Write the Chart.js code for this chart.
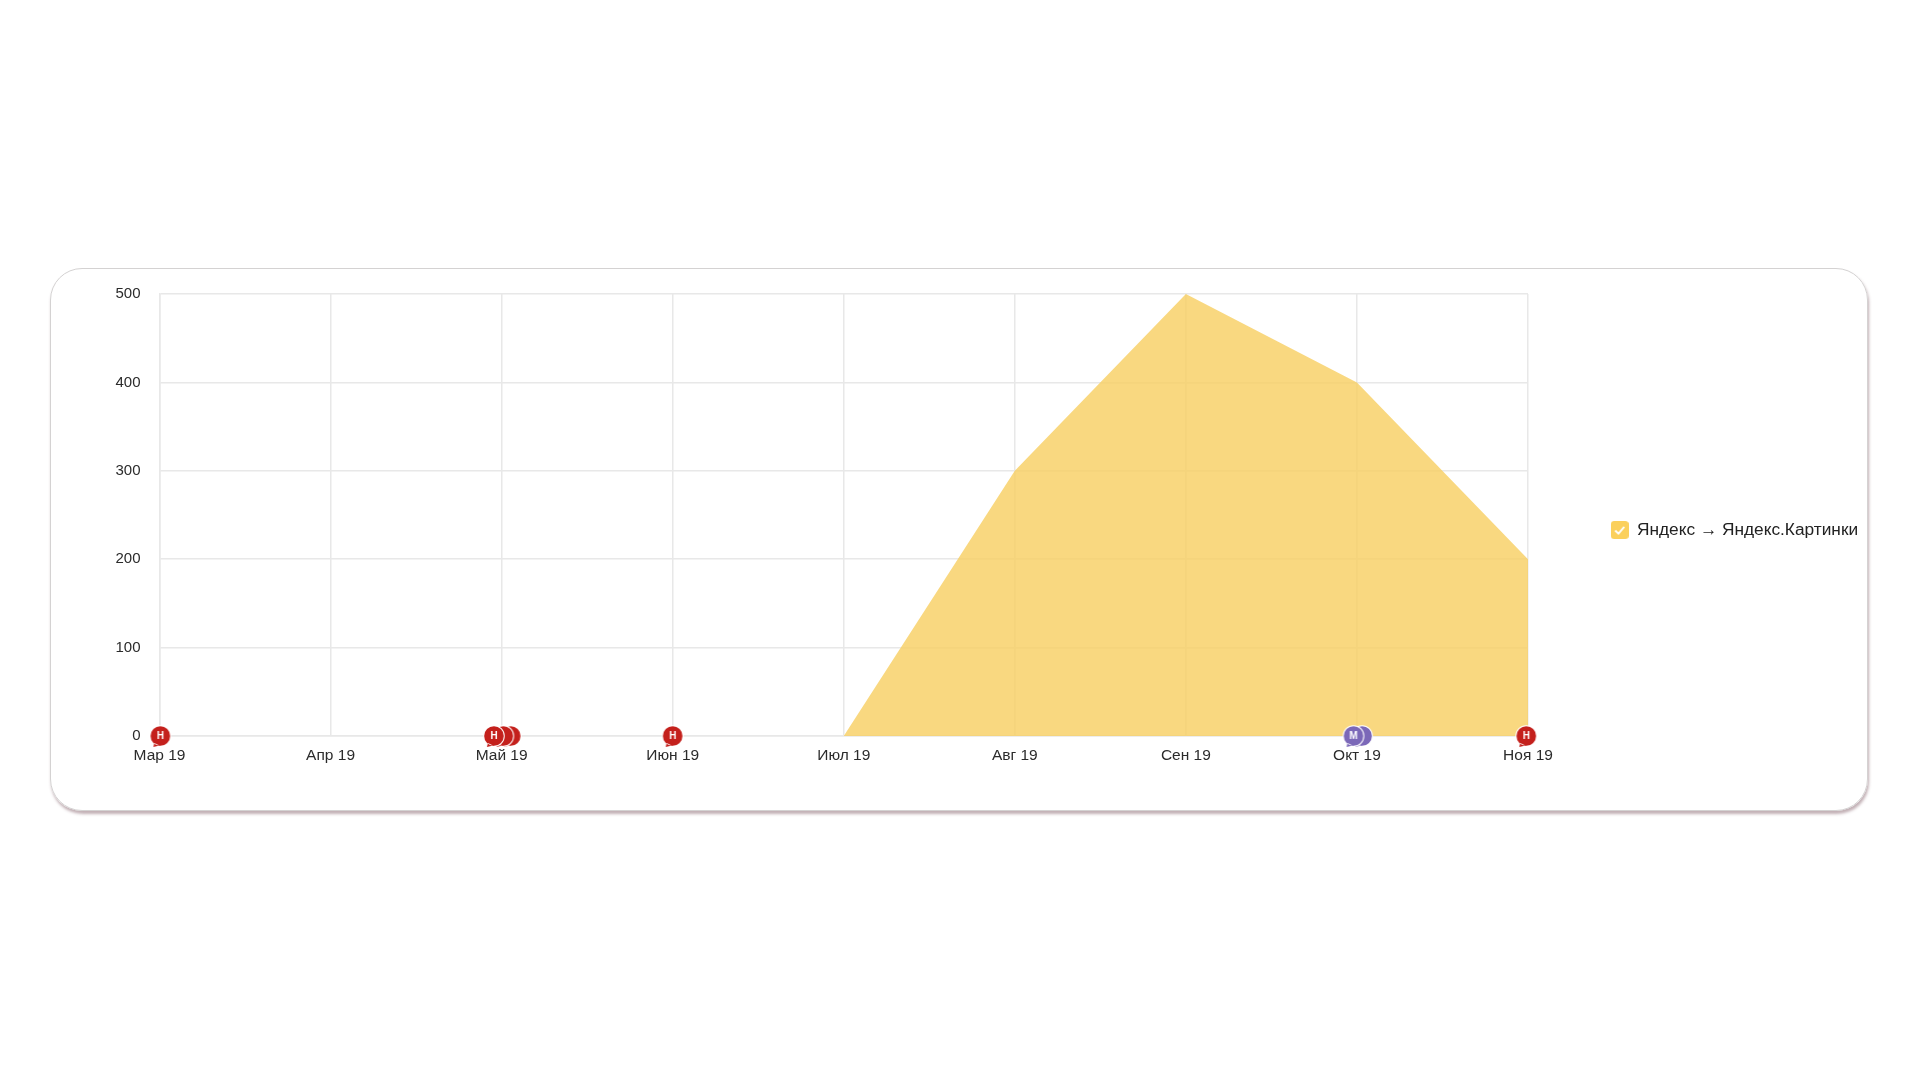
<!DOCTYPE html>
<html lang="ru">
<head>
<meta charset="utf-8">
<title>Яндекс → Яндекс.Картинки</title>
<script src="https://cdn.jsdelivr.net/npm/chart.js@4"></script>
<style>
  html, body { margin: 0; width: 1920px; height: 1080px; background: #fff; overflow: hidden; }
  #card {
    position: absolute; left: 50px; top: 268px; width: 1816px; height: 541px;
    border: 1px solid #d4d2d2; border-radius: 32px;
    box-shadow: 1px 3px 3px rgba(120, 80, 90, .45);
  }
  #chart-box { position: absolute; left: 50px; top: 270px; width: 1818px; height: 496px; }
</style>
</head>
<body>
<div id="card"></div>
<div id="chart-box"><canvas id="chart"></canvas></div>
<script>
// Данные графика
const months = ['Мар 19', 'Апр 19', 'Май 19', 'Июн 19', 'Июл 19', 'Авг 19', 'Сен 19', 'Окт 19', 'Ноя 19'];
const visits = [0, 0, 0, 0, 0, 300, 500, 400, 200];
const seriesName = 'Яндекс → Яндекс.Картинки';

// Метки событий на оси (позиция в месяцах от Мар 19)
const redNotes = [0.005, 1.955, 3, 7.99];
const redNotesBehind = [2.053, 2.01];
const purpleNotes = [6.98];
const purpleNotesBehind = [7.03];

const font = '"Liberation Sans", Arial, sans-serif';

// Значок-облачко с буквой
function noteIcon(letter, color) {
    const c = document.createElement('canvas');
    c.width = 28; c.height = 28;
    const g = c.getContext('2d');
    const path = () => {
        g.beginPath();
        g.arc(14, 14, 9.8, 0, Math.PI * 2);
        g.moveTo(8, 21);
        g.lineTo(7, 25);
        g.lineTo(13, 23.5);
        g.closePath();
    };
    path();
    g.strokeStyle = '#fff';
    g.lineWidth = 2;
    g.stroke();
    g.fillStyle = color;
    path();
    g.fill();
    g.fillStyle = '#fff';
    g.font = 'bold 10px ' + font;
    g.textAlign = 'center';
    g.textBaseline = 'middle';
    g.fillText(letter, 14, 14.5);
    return c;
}

// Галочка в легенде
function checkIcon() {
    const c = document.createElement('canvas');
    c.width = 18; c.height = 18;
    const g = c.getContext('2d');
    g.fillStyle = '#fbd05c';
    g.beginPath();
    g.roundRect(0, 0, 18, 18, 3.5);
    g.fill();
    g.strokeStyle = '#fff';
    g.lineWidth = 1.8;
    g.beginPath();
    g.moveTo(4.5, 9.5);
    g.lineTo(7.8, 12.6);
    g.lineTo(13.5, 5.8);
    g.stroke();
    return c;
}

// order: чем больше, тем глубже
function noteDataset(xs, letter, color, order) {
    return {
        type: 'scatter',
        label: letter || 'behind',
        data: xs.map(x => ({ x: x, y: 0 })),
        pointStyle: noteIcon(letter, color),
        pointRadius: 10,
        clip: false,
        order: order
    };
}

new Chart(document.getElementById('chart'), {
    type: 'line',
    data: {
        datasets: [
            {
                label: seriesName,
                data: visits.map((v, i) => ({ x: i, y: v })),
                fill: 'origin',
                backgroundColor: 'rgba(248, 206, 96, 0.8)',
                borderWidth: 0,
                tension: 0,
                pointRadius: 0,
                pointStyle: checkIcon(),
                order: 3
            },
            noteDataset(redNotesBehind, '', '#c4201c', 2),
            noteDataset(purpleNotesBehind, '', '#7b68b8', 2),
            noteDataset(redNotes, 'Н', '#c4201c', 1),
            noteDataset(purpleNotes, 'М', '#7b68b8', 1)
        ]
    },
    plugins: [{
        id: 'legendWidth',
        beforeLayout(chart) {
            // место справа под легенду, как в оригинале
            const legend = chart.legend;
            if (!legend._fit0) {
                legend._fit0 = legend.fit;
                legend.fit = function () { legend._fit0.call(this); this.width = 340; };
            }
        }
    }],
    options: {
        responsive: true,
        maintainAspectRatio: false,
        animation: false,
        layout: { padding: { top: 24, left: 0, right: 0, bottom: 0 } },
        plugins: {
            tooltip: { enabled: false },
            legend: {
                position: 'right',
                labels: {
                    usePointStyle: true,
                    boxWidth: 18,
                    boxHeight: 18,
                    padding: 83,
                    color: '#222',
                    font: { family: font, size: 17.3 },
                    filter: item => item.text === seriesName
                }
            }
        },
        scales: {
            x: {
                type: 'linear',
                min: 0,
                max: months.length - 1,
                afterFit(scale) { scale.height = 30; },
                afterBuildTicks(scale) { scale.ticks = months.map((m, i) => ({ value: i })); },
                grid: { color: '#e8e8e8', lineWidth: 1.5, drawTicks: false },
                border: { color: '#e8e8e8', width: 1.5 },
                ticks: {
                    autoSkip: false,
                    maxRotation: 0,
                    padding: 10,
                    color: '#2b2b2b',
                    font: { family: font, size: 15.5 },
                    callback: value => months[value]
                }
            },
            y: {
                min: 0,
                max: 500,
                afterFit(scale) {
                    scale.width = 109.5;
                    // иначе padding подписей сдвигает верх области графика
                    scale.paddingTop = 0;
                    scale.paddingBottom = 0;
                },
                grid: { color: '#e8e8e8', lineWidth: 1.5, drawTicks: false },
                border: { color: '#e8e8e8', width: 1.5 },
                ticks: {
                    stepSize: 100,
                    padding: 19,
                    color: '#2b2b2b',
                    font: { family: font, size: 15 }
                }
            }
        }
    }
});
</script>
</body>
</html>
